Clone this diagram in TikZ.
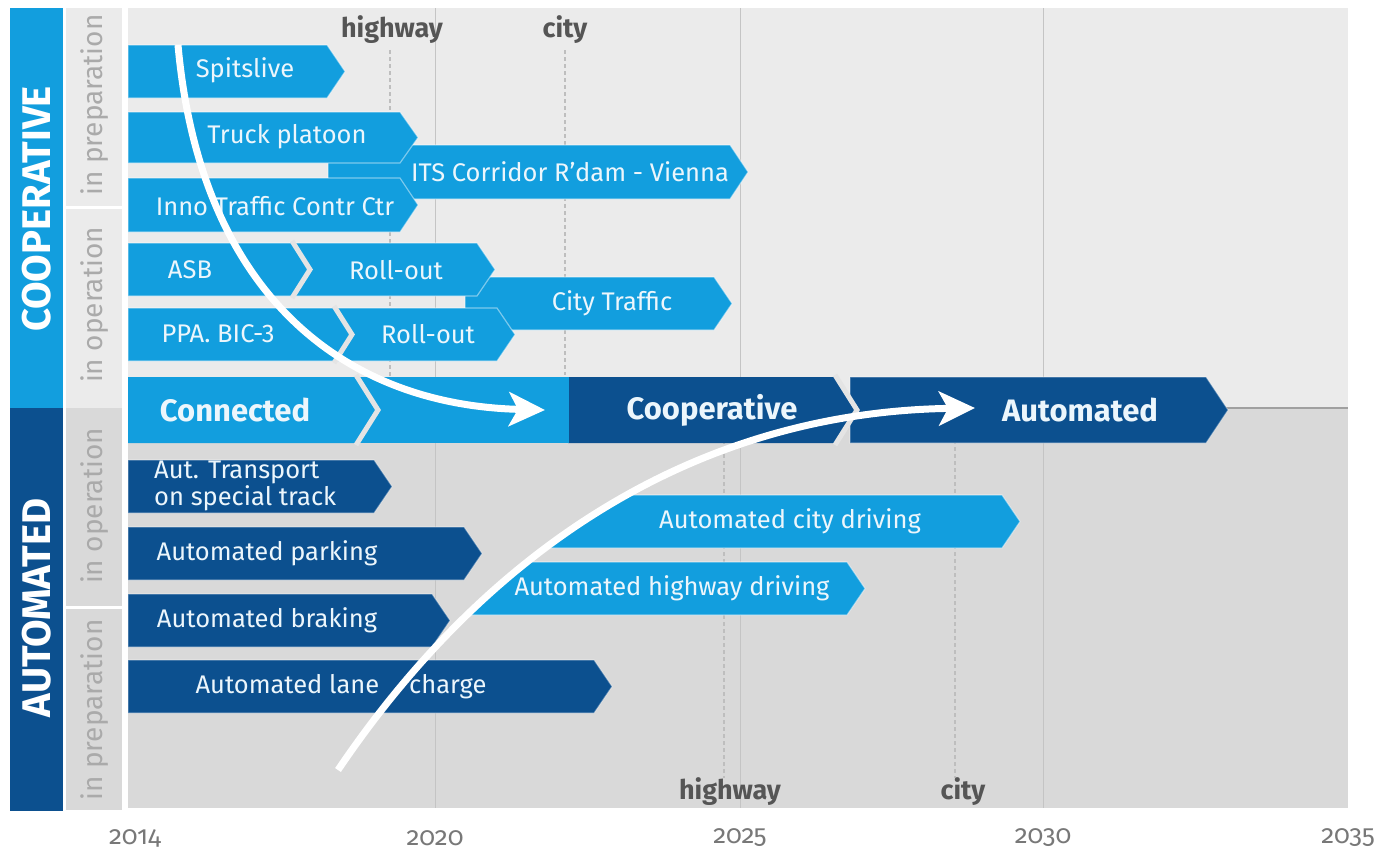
\documentclass[tikz,border=0pt]{standalone}
\usepackage{fontspec}
\setmainfont{Fira Sans}
\newfontfamily\yearfont[Numbers=OldStyle]{Fira Sans}
\usetikzlibrary{arrows.meta}
\definecolor{lblue}{RGB}{18,158,222}
\definecolor{dblue}{RGB}{12,80,143}
\definecolor{bgup}{RGB}{235,235,235}
\definecolor{bglo}{RGB}{217,217,217}
\definecolor{gridc}{RGB}{196,196,196}
\definecolor{dotc}{RGB}{190,190,190}
\definecolor{txtw}{RGB}{236,246,252}
\definecolor{sidegray}{RGB}{170,170,170}
\definecolor{hdgray}{RGB}{85,85,85}
\definecolor{yeargray}{RGB}{120,120,120}
\definecolor{gapcol}{RGB}{228,228,228}
\definecolor{midline}{RGB}{160,160,160}
\def\pd{18}
\newcommand\pbar[5]{\path[#5] (#1,#3) -- ({#2-\pd},#3) -- (#2,{(#3+#4)/2}) -- ({#2-\pd},#4) -- (#1,#4) -- cycle;}
\newcommand\sbar[6]{\path[#6] (#1,#4) -- ({#3-\pd},#4) -- (#3,{(#4+#5)/2}) -- ({#3-\pd},#5) -- (#2,#5) -- cycle;}
\newcommand\pgap[3]{\draw[gapc] ({#1-\pd},{#2-2}) -- (#1,{(#2+#3)/2}) -- ({#1-\pd},{#3+2});}
\begin{document}
\begin{tikzpicture}[x=1pt,y=-1pt,
  lb/.style={fill=lblue,draw=white,draw opacity=0.45,line width=1.2pt},
  db/.style={fill=dblue,draw=white,draw opacity=0.35,line width=1.2pt},
  gapc/.style={draw=gapcol,line width=5pt},
  blbl/.style={text=txtw,font=\fontsize{25.5}{27}\selectfont,inner sep=0pt},
  bigl/.style={text=txtw,font=\bfseries\fontsize{31}{33}\selectfont,inner sep=0pt},
  sidel/.style={rotate=90,text=white,font=\bfseries\fontsize{40}{42}\selectfont,inner sep=0pt},
  phase/.style={rotate=90,text=sidegray,font=\fontsize{28}{30}\selectfont,inner sep=0pt},
  tagl/.style={text=hdgray,font=\bfseries\fontsize{27}{29}\selectfont,inner sep=0pt},
  yearl/.style={text=yeargray,font=\yearfont\fontsize{26}{28}\selectfont,inner sep=0pt},
  gridl/.style={draw=gridc,line width=1pt},
  dotl/.style={draw=dotc,line width=1.2pt,dash pattern=on 4pt off 3pt},
  bigarrow/.style={draw=white,line width=7pt,-{Stealth[length=36pt,width=34pt,inset=9pt]}}
]
\useasboundingbox (0,0) rectangle (1376,852);
\fill[white] (0,0) rectangle (1376,852);
% backgrounds
\fill[bgup] (128,8) rectangle (1348,408);
\fill[bglo] (128,408) rectangle (1348,808);
\fill[bgup] (66,8) rectangle (122,206);
\fill[bgup] (66,209) rectangle (122,408);
\fill[bglo] (66,408) rectangle (122,606);
\fill[bglo] (66,609) rectangle (122,810);
\fill[lblue] (10,8) rectangle (63,408);
\fill[dblue] (10,408) rectangle (63,811);
% grid
\foreach \gx in {435,740,1043} \draw[gridl] (\gx,8) -- (\gx,808);
\draw[draw=midline,line width=1.5pt] (128,408) -- (1348,408);
\draw[dotl] (390,50) -- (390,405);
\draw[dotl] (565,50) -- (565,375);
\draw[dotl] (724,440) -- (724,778);
\draw[dotl] (955,440) -- (955,778);
% cooperative bars
\pbar{328}{748}{145}{199}{lb}
\pbar{128}{345}{45}{98}{lb}
\pbar{128}{418}{112}{163}{lb}
\pbar{128}{418}{178}{232}{lb}
\pbar{465}{732}{277}{330}{lb}
\pbar{290}{495}{243}{296}{lb}
\pbar{335}{515}{308}{361}{lb}
\pbar{128}{310}{243}{296}{lb}
\pgap{310}{243}{296}
\pbar{128}{352}{308}{361}{lb}
\pgap{352}{308}{361}
% main row
\def\pd{22}
\pbar{850}{1228}{377}{443}{db}
\pbar{568}{857}{377}{443}{fill=dblue}
\pgap{857}{377}{443}
\fill[lblue] (360,377) rectangle (568.5,443);
\pbar{128}{378}{377}{443}{fill=lblue}
\pgap{378}{377}{443}
\def\pd{18}
% automated bars
\sbar{624}{548}{1020}{495}{548}{lb}
\sbar{529}{466}{865}{562}{615}{lb}
\pbar{128}{392}{460}{513}{db}
\pbar{128}{482}{527}{580}{db}
\pbar{128}{450}{594}{647}{db}
\pbar{128}{612}{660}{713}{db}
% side labels
\node[sidel] (coop) at (37,209) {COOPERATIVE};
\node[sidel] (auto) at (37,608) {AUTOMATED};
\node[phase] (p1) at (95,105) {in preparation};
\node[phase] (p2) at (95,305) {in operation};
\node[phase] (p3) at (95,506) {in operation};
\node[phase] (p4) at (95,710) {in preparation};
% tags
\node[tagl] (hw1) at (392,30) {highway};
\node[tagl] (ct1) at (565,30) {city};
\node[tagl] (hw2) at (730,792) {highway};
\node[tagl] (ct2) at (963,792) {city};
% years
\node[yearl] (y14) at (135,838) {2014};
\node[yearl] (y20) at (435,838) {2020};
\node[yearl] (y25) at (740,838) {2025};
\node[yearl] (y30) at (1043,838) {2030};
\node[yearl,anchor=east] (y35) at (1375,838) {2035};
% bar labels
\node[blbl] (t1) at (245,70) {Spitslive};
\node[blbl] (t2) at (287,137) {Truck platoon};
\node[blbl] (t3) at (570,172) {ITS Corridor R'dam - Vienna};
\node[blbl] (t4) at (275,206) {Inno Traffic Contr Ctr};
\node[blbl] (t5) at (190,270) {ASB};
\node[blbl] (t6) at (396,270) {Roll-out};
\node[blbl] (t7) at (612,303) {City Traffic};
\node[blbl] (t8) at (218,334) {PPA. BIC-3};
\node[blbl] (t9) at (428,334) {Roll-out};
\node[bigl] (m1) at (235,410) {Connected};
\node[bigl] (m2) at (712,410) {Cooperative};
\node[bigl] (m3) at (1080,410) {Automated};
\node[blbl,anchor=west,align=left,font=\fontsize{25.5}{22}\selectfont] (a1) at (154,486) {Aut. Transport\\on special track};
\node[blbl] (a2) at (790,521) {Automated city driving};
\node[blbl] (a3) at (267,553) {Automated parking};
\node[blbl] (a4) at (672,588) {Automated highway driving};
\node[blbl] (a5) at (267,620) {Automated braking};
\node[blbl] (a6) at (341,687) {Automated lane\hspace{30pt}charge};
% big arrows
\coordinate (c1s) at (178,45);
\coordinate (c1e) at (545,410);
\coordinate (c2s) at (338,770);
\coordinate (c2e) at (975,408);
\draw[bigarrow] (c1s) .. controls (200,290) and (340,405) .. (c1e);
\draw[bigarrow] (c2s) .. controls (490,545) and (700,412) .. (c2e);
\end{tikzpicture}
\end{document}
